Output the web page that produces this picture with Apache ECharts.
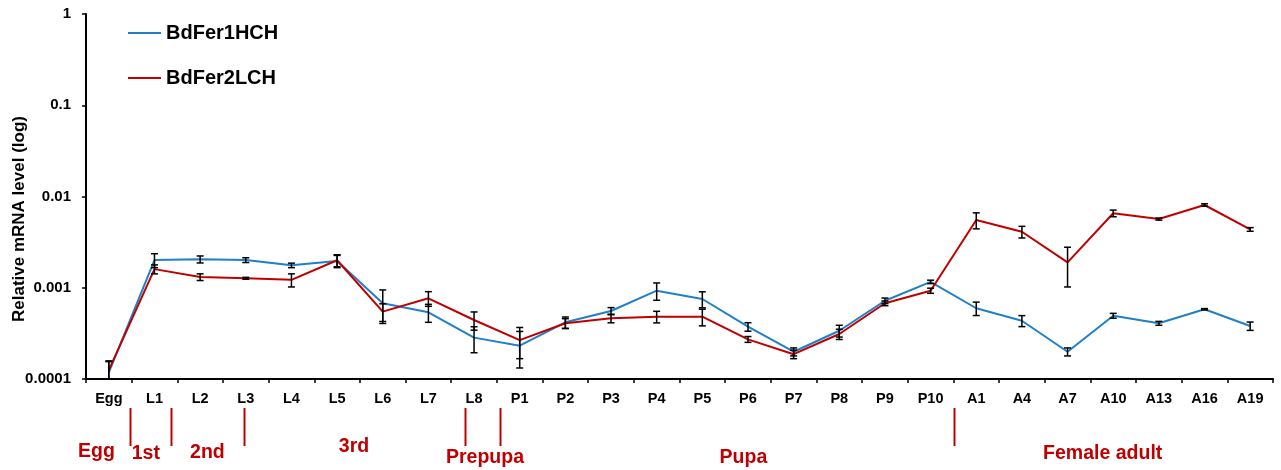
<!DOCTYPE html>
<html>
<head>
<meta charset="utf-8">
<script src="https://cdn.jsdelivr.net/npm/echarts@6/dist/echarts.min.js"></script>
<style>
html,body{margin:0;padding:0;background:#fff;}
#c{width:1281px;height:470px;}
</style>
</head>
<body>
<div id="c"></div>
<script>
// ---- data ----
var categories = ['Egg','L1','L2','L3','L4','L5','L6','L7','L8','P1','P2','P3','P4','P5','P6','P7','P8','P9','P10','A1','A4','A7','A10','A13','A16','A19'];
var fer1Name = 'BdFer1HCH';
var fer2Name = 'BdFer2LCH';
var fer1 = [0.000118,0.00201,0.00205,0.00201,0.00176,0.00196,0.000676,0.000538,0.000284,0.000232,0.000418,0.000556,0.000929,0.000753,0.000374,0.000199,0.000338,0.000721,0.00116,0.000596,0.000435,0.000199,0.000494,0.000408,0.000581,0.000381];
var fer1Err = [0.00004,0.00035,0.00018,0.00012,0.0001,0.0003,0.00027,0.00012,0.00009,0.0001,0.00006,0.00005,0.0002,0.00015,0.00004,0.00002,0.00005,0.00005,0.00005,0.0001,0.00006,0.00002,0.00003,0.00002,0.00001,0.00004];
var fer2 = [0.000125,0.0016,0.00131,0.00127,0.00122,0.002,0.000547,0.000766,0.000443,0.000267,0.000408,0.000463,0.000482,0.000482,0.000272,0.000187,0.000311,0.000676,0.000929,0.00552,0.00411,0.0019,0.00655,0.00566,0.00807,0.00436];
var fer2Err = [0.00003,0.00018,0.00011,0.00003,0.0002,0.0003,0.00012,0.00014,0.0001,0.0001,0.00005,0.00005,0.00007,0.0001,0.00002,0.00002,0.00004,0.00004,0.00006,0.0011,0.0006,0.00088,0.00055,0.00015,0.00025,0.0002];
var yTickLabels = ['0.0001','0.001','0.01','0.1','1'];
var yAxisTitle = 'Relative mRNA level (log)';
var stageNames = ['Egg','1st','2nd','3rd','Prepupa','Pupa','Female adult'];

// ---- layout (annotation placement, in category-index units / pixels) ----
var stageLabelPos = [[-0.27,452],[0.81,454],[2.16,452.5],[5.37,447],[8.24,458],[13.9,458],[21.77,454]];
var stageSepPos = [0.46,1.36,2.97,7.81,8.57,18.51];

var FONT = 'Arial, "Liberation Sans", sans-serif';
var BLUE = '#1f80c8', RED = '#c00000';
var YMIN = 0.0001, YMAX = 1;

function errData(vals, errs){
  return vals.map(function(v,i){
    var lo = v - errs[i], clamped = false;
    if (lo < YMIN) { lo = YMIN; clamped = true; }
    return [i, lo, v + errs[i], clamped ? 1 : 0];
  });
}
function renderErr(params, api){
  var i = api.value(0);
  var lo = api.coord([i, api.value(1)]);
  var hi = api.coord([i, api.value(2)]);
  var w = 3.5;
  var st = {stroke:'#000', lineWidth:1.5};
  var ch = [
    {type:'line', shape:{x1:lo[0],y1:lo[1],x2:hi[0],y2:hi[1]}, style:st},
    {type:'line', shape:{x1:hi[0]-w,y1:hi[1],x2:hi[0]+w,y2:hi[1]}, style:st}
  ];
  if (!api.value(3)) ch.push({type:'line', shape:{x1:lo[0]-w,y1:lo[1],x2:lo[0]+w,y2:lo[1]}, style:st});
  return {type:'group', children:ch};
}

var chart = echarts.init(document.getElementById('c'), null, {renderer:'canvas'});
var option = {
  animation:false,
  backgroundColor:'#fff',
  textStyle:{fontFamily:FONT},
  grid:{left:86, right:8, top:14, bottom:91, containLabel:false},
  legend:{
    orient:'vertical', left:123, top:18, itemGap:25,
    itemWidth:33, itemHeight:2, icon:'rect',
    textStyle:{fontFamily:FONT, fontSize:20, fontWeight:'bold', color:'#000', lineHeight:20},
    data:[{name:fer1Name},{name:fer2Name}]
  },
  xAxis:{
    type:'category', data:categories, boundaryGap:true,
    axisLine:{lineStyle:{color:'#000', width:2}},
    axisTick:{show:true, length:4, lineStyle:{color:'#000', width:1.5}},
    axisLabel:{fontFamily:FONT, fontSize:14.5, fontWeight:'bold', color:'#000', margin:12, interval:0},
    splitLine:{show:false}
  },
  yAxis:{
    type:'log', logBase:10, min:YMIN, max:YMAX,
    axisLine:{show:true, lineStyle:{color:'#000', width:2}},
    axisTick:{show:true, length:4, lineStyle:{color:'#000', width:1.5}},
    axisLabel:{fontFamily:FONT, fontSize:15, fontWeight:'bold', color:'#000', margin:15,
      formatter:function(v){ var e = Math.round(Math.log10(v)) + 4; return yTickLabels[e] !== undefined ? yTickLabels[e] : ''; }},
    splitLine:{show:false},
    minorTick:{show:false}
  },
  series:[
    {name:fer1Name, type:'line', data:fer1, showSymbol:false, symbol:'none', lineStyle:{color:BLUE, width:2}, itemStyle:{color:BLUE}, z:2},
    {name:fer2Name, type:'line', data:fer2, showSymbol:false, symbol:'none', lineStyle:{color:RED, width:2}, itemStyle:{color:RED}, z:3},
    {type:'custom', renderItem:renderErr, data:errData(fer1, fer1Err), encode:{x:0, y:[1,2]}, z:5, silent:true},
    {type:'custom', renderItem:renderErr, data:errData(fer2, fer2Err), encode:{x:0, y:[1,2]}, z:5, silent:true}
  ]
};
chart.setOption(option);

// annotations placed from the category axis scale
var p0 = chart.convertToPixel({xAxisIndex:0}, 0);
var p1 = chart.convertToPixel({xAxisIndex:0}, 1);
var step = p1 - p0;
function ix(idx){ return p0 + idx*step; }
var gfx = [];
gfx.push({type:'text', x:19, y:219, rotation:Math.PI/2,
  style:{text:yAxisTitle, font:'bold 17px ' + FONT, fill:'#000', textAlign:'center', textVerticalAlign:'middle'}});
stageSepPos.forEach(function(s){
  var x = Math.round(ix(s)) + 0.5;
  gfx.push({type:'line', shape:{x1:x, y1:408, x2:x, y2:446}, style:{stroke:RED, lineWidth:2}});
});
stageNames.forEach(function(n, k){
  var pos = stageLabelPos[k];
  gfx.push({type:'text', x:ix(pos[0]), y:pos[1],
    style:{text:n, font:'bold 19.5px ' + FONT, fill:RED, textAlign:'center', textVerticalAlign:'middle'}});
});
chart.setOption({graphic:gfx});
</script>
</body>
</html>
